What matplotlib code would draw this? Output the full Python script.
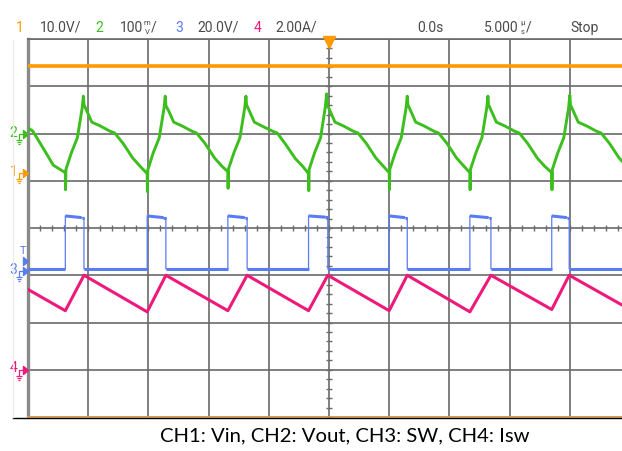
import numpy as np
import matplotlib.pyplot as plt
from matplotlib.path import Path
from matplotlib.lines import Line2D

# scope channels: 1 Vin, 2 Vout (AC ripple), 3 SW, 4 Isw
ch_colors = ["#ff9a00", "#3cbf1e", "#5a7cf2", "#ee1a7b"]
ch_scale = [10.0, 0.1, 20.0, 2.0]        # units per division
ch_pos = [1.16, 1.99, -0.91, -3.0]       # ground marker position, divisions
trig_level = 4.2                          # V on CH3

# time in us (trigger at 0, 5 us/div)
vin_t = [-25.0, 25.0]
vin_v = [22.7, 22.7]

vout_t = [-25.0, -24.6, -23.6, -22.9,
          -21.9, -21.88, -21.85, -21.4, -20.9, -20.5, -20.4, -20.35, -20.1, -19.7, -19.0, -18.2, -17.8, -17.1, -16.3, -15.7,
          -15.1, -15.08, -15.05, -14.6, -14.1, -13.7, -13.6, -13.55, -13.3, -12.9, -12.2, -11.4, -11.0, -10.3, -9.5, -8.9,
          -8.4, -8.38, -8.35, -7.9, -7.4, -7.0, -6.9, -6.85, -6.6, -6.2, -5.5, -4.7, -4.3, -3.6, -2.8, -2.2,
          -1.7, -1.68, -1.65, -1.2, -0.7, -0.3, -0.2, -0.15, 0.1, 0.5, 1.2, 2.0, 2.4, 3.1, 3.9, 4.5,
          5.0, 5.02, 5.05, 5.5, 6.0, 6.4, 6.5, 6.55, 6.8, 7.2, 7.9, 8.7, 9.1, 9.8, 10.6, 11.2,
          11.7, 11.72, 11.75, 12.2, 12.7, 13.1, 13.2, 13.25, 13.5, 13.9, 14.6, 15.4, 15.8, 16.5, 17.3, 17.9,
          18.5, 18.52, 18.55, 19.0, 19.5, 19.9, 20.0, 20.05, 20.3, 20.7, 21.4, 22.2, 22.6, 23.3, 24.1, 24.7, 25.0]
vout_mv = [13, 6, -36, -66,
           -82, -118, -75, -40, -8, 55, 80, 62, 48, 25, 17, 6, 2, -20, -51, -68,
           -84, -122, -76, -40, -8, 55, 80, 60, 48, 25, 17, 6, 2, -20, -51, -68,
           -80, -115, -74, -40, -8, 55, 80, 62, 48, 25, 16, 6, 2, -22, -52, -68,
           -84, -120, -75, -40, -8, 58, 85, 62, 48, 25, 17, 6, 2, -20, -51, -68,
           -82, -118, -75, -40, -8, 55, 80, 62, 48, 25, 17, 6, 2, -20, -51, -68,
           -82, -118, -75, -40, -8, 55, 80, 62, 48, 25, 17, 6, 2, -20, -51, -68,
           -82, -118, -75, -40, -8, 55, 82, 62, 48, 25, 17, 6, 2, -20, -51, -68, -76]

sw_rise = [-21.9, -15.1, -8.4, -1.7, 5.0, 11.7, 18.5]
sw_fall = [-20.35, -13.55, -6.8, -0.1, 6.5, 13.45, 19.95]
sw_high = [23.3, 23.3, 23.3, 23.3, 23.3, 23.3, 23.3]
sw_droop = [22.6, 22.6, 22.6, 22.8, 22.6, 22.6, 22.6]
sw_low = 0.85

isw_t = [-25.0, -21.9, -20.35, -15.1, -13.55, -8.4, -6.8, -1.7, -0.1, 5.0, 6.5, 11.7, 13.45, 18.5, 19.95, 25.0]
isw_a = [3.4, 2.5, 4.0, 2.45, 4.0, 2.5, 4.0, 2.5, 4.0, 2.5, 4.0, 2.45, 4.0, 2.55, 4.0, 2.55]

header = [("1", 0), ("10.0V/", None), ("2", 1), ("100", None), ("3", 2), ("20.0V/", None), ("4", 3), ("2.00A/", None)]
header_x = [16, 40, 95, 120, 175, 197, 254, 275]
caption = "CH1: Vin, CH2: Vout, CH3: SW, CH4: Isw"

W, H = 622, 451
fig = plt.figure(figsize=(W / 100, H / 100), dpi=100)
ax = fig.add_axes([28 / W, 34 / H, 602 / W, 378 / H])


def to_div(vals, ch):
    return np.asarray(vals, dtype=float) / ch_scale[ch] + ch_pos[ch]


# build switch node trace from edges
sw_t, sw_v = [-25.0], [sw_low]
for r, f, hi, dr in zip(sw_rise, sw_fall, sw_high, sw_droop):
    sw_t += [r, r, f - 0.2, f, f]
    sw_v += [sw_low, hi, dr, dr, sw_low]
sw_t.append(25.0)
sw_v.append(sw_low)

ax.plot(vin_t, to_div(vin_v, 0), color=ch_colors[0], lw=2.6, zorder=5)
ax.plot(vout_t, to_div(np.array(vout_mv) / 1000.0, 1), color=ch_colors[1], lw=2.1, zorder=5)
ax.plot(sw_t, to_div(sw_v, 2), color=ch_colors[2], lw=0.9, zorder=5)
# flat parts of SW look thicker (noise)
for i in range(len(sw_t) - 1):
    if abs(sw_v[i] - sw_v[i + 1]) < 1:
        ax.plot(sw_t[i:i + 2], to_div(sw_v[i:i + 2], 2), color=ch_colors[2], lw=2.2, zorder=5,
                solid_capstyle="butt")
ax.plot(isw_t, to_div(isw_a, 3), color=ch_colors[3], lw=2.2, zorder=6)

# graticule
grid_c = "#6a6a6a"
ax.set_xlim(-25, 25)
ax.set_ylim(-4, 4)
ax.set_xticks(np.arange(-25, 26, 5))
ax.set_yticks(np.arange(-4, 5, 1))
ax.grid(color=grid_c, lw=1.2)
ax.tick_params(length=0, labelbottom=False, labelleft=False)
ax.spines["left"].set_color("#8a8a8a")
ax.spines["left"].set_linewidth(2.4)
ax.spines["top"].set_color(grid_c)
ax.spines["top"].set_linewidth(1.2)
ax.spines["bottom"].set_color("#e8a050")
ax.spines["bottom"].set_linewidth(1.2)
ax.spines["right"].set_visible(False)
ax.plot(np.zeros(41), np.linspace(-4, 4, 41), ls="none", marker="_", ms=5, mew=1, color=grid_c, zorder=2)
ax.plot(np.linspace(-25, 25, 51), np.zeros(51), ls="none", marker="|", ms=5, mew=1, color=grid_c, zorder=2)
ax.plot(0, 3.93, marker="v", ms=8, color=ch_colors[0], clip_on=False, zorder=7)

fig.add_artist(Line2D([13 / W, 1], [(H - 418) / H] * 2, color="black", lw=1.0))
fig.add_artist(Line2D([13 / W, 13 / W], [(H - 417) / H, (H - 40) / H], color="#ececec", lw=1.0))

# channel ground markers
base = ax.get_yaxis_transform()
tri = Path([(0, 0), (-5, 4), (-5, -4), (0, 0)], [Path.MOVETO, Path.LINETO, Path.LINETO, Path.CLOSEPOLY])
gnd = Path([(-5, 0), (-9, 0), (-9, 0), (-9, -6), (-12, -6), (-6, -6), (-11, -8), (-7, -8), (-10, -10), (-8, -10),
            (12, 0), (12, 0)],
           [Path.MOVETO, Path.LINETO, Path.MOVETO, Path.LINETO, Path.MOVETO, Path.LINETO,
            Path.MOVETO, Path.LINETO, Path.MOVETO, Path.LINETO, Path.MOVETO, Path.LINETO])
for ch in range(4):
    y = ch_pos[ch]
    ax.plot(0, y, transform=base, marker=tri, ms=5 * 2 * 0.72, color=ch_colors[ch], clip_on=False, zorder=8)
    ax.plot(0, y, transform=base, marker=gnd, ms=12 * 2 * 0.72, mfc="none", mec=ch_colors[ch], mew=0.9,
            clip_on=False, zorder=8)
    ax.annotate(str(ch + 1), xy=(0, y), xycoords=base, xytext=(-10.5, 1), textcoords="offset points",
                ha="center", va="center", fontsize=10, color=ch_colors[ch], family="Roboto")
ty = to_div([trig_level], 2)[0]
ax.plot(0, ty, transform=base, marker=tri, ms=5 * 2 * 0.72, color=ch_colors[2], clip_on=False, zorder=8)
ax.annotate("T", xy=(0, ty), xycoords=base, xytext=(-3.5, 7.5), textcoords="offset points",
            ha="center", va="center", fontsize=8, color=ch_colors[2], family="Roboto")

# header line
hy = 1 - 28 / H
gray = "#4a4a4a"
txt = dict(va="center", fontsize=10, family="Roboto", color=gray)
small = dict(va="center", fontsize=5.5, family="Roboto", color=gray)
for (s, ch), x in zip(header, header_x):
    c = ch_colors[ch] if ch is not None else gray
    fig.text(x / W, hy, s, **{**txt, "color": c})
fig.text(144 / W, hy + 5 / H, "m", **small)
fig.text(144.5 / W, hy - 4 / H, "V", **small)
fig.text(151 / W, hy, "/", **txt)
fig.text(417 / W, hy, "0.0s", **txt)
fig.text(484 / W, hy, "5.000", **txt)
fig.text(520 / W, hy + 5 / H, "\u00b5", **small)
fig.text(520.5 / W, hy - 4 / H, "s", **small)
fig.text(526 / W, hy, "/", **txt)
fig.text(570 / W, hy, "Stop", **txt)

fig.text(345 / W, 1 - 436 / H, caption, ha="center", va="center", fontsize=14.6, family="Lato", color="black")

fig.savefig("out.png", dpi=100)
